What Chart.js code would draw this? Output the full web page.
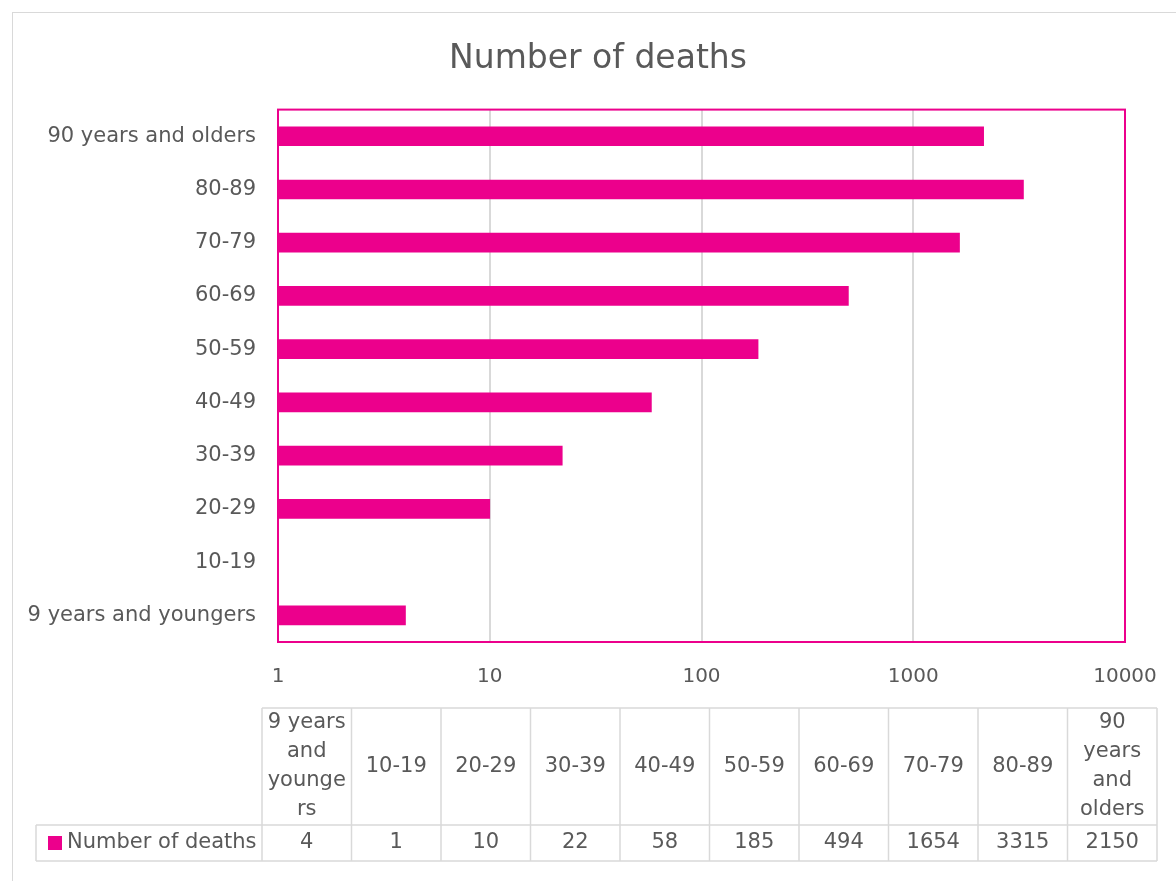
<!DOCTYPE html>
<html>
<head>
<meta charset="utf-8">
<script src="https://cdn.jsdelivr.net/npm/chart.js@4/dist/chart.umd.min.js"></script>
<style>
    html, body { margin: 0; padding: 0; background: #fff; }
    canvas { display: block; }
</style>
</head>
<body>
<canvas id="deaths_chart" width="1176" height="881"></canvas>
<script>
// Данные
const ageGroups = ['9 years and youngers', '10-19', '20-29', '30-39', '40-49', '50-59', '60-69', '70-79', '80-89', '90 years and olders'];
const deaths = [4, 1, 10, 22, 58, 185, 494, 1654, 3315, 2150];
const seriesName = 'Number of deaths';
const tickValues = [1, 10, 100, 1000, 10000];

const barColor = '#EC008C';
const textColor = '#595959';
const lineColor = '#d9d9d9';
const fontFamily = "'DejaVu Sans', Verdana, sans-serif";

Chart.defaults.font.family = fontFamily;
Chart.defaults.color = textColor;

// Рамка вокруг всей диаграммы и вокруг области построения
const framePlugin = {
    id: 'frame',
    beforeDraw(chart) {
        const ctx = chart.ctx;
        ctx.save();
        ctx.strokeStyle = lineColor;
        ctx.lineWidth = 1;
        ctx.strokeRect(12.5, 12.5, chart.width + 20, chart.height + 20);
        ctx.restore();
    },
    afterDatasetsDraw(chart) {
        const { ctx, chartArea: a } = chart;
        ctx.save();
        ctx.strokeStyle = barColor;
        ctx.lineWidth = 2;
        ctx.strokeRect(a.left, a.top, a.right - a.left, a.bottom - a.top);
        ctx.restore();
    }
};

// Разбивка подписи по ширине ячейки (как в Excel)
function wrapText(ctx, text, maxWidth) {
    const lines = [];
    let line = '';
    text.split(' ').forEach(word => {
        const test = line ? line + ' ' + word : word;
        if (ctx.measureText(test).width <= maxWidth) {
            line = test;
            return;
        }
        if (line) lines.push(line);
        line = '';
        // слово длиннее ячейки - режем по буквам
        for (const ch of word) {
            if (ctx.measureText(line + ch).width > maxWidth && line) {
                lines.push(line);
                line = ch;
            } else {
                line += ch;
            }
        }
    });
    if (line) lines.push(line);
    return lines;
}

// Таблица данных под осью
const dataTablePlugin = {
    id: 'dataTable',
    afterDraw(chart) {
        const { ctx, chartArea: a } = chart;
        const left = a.left - 16;
        const colW = 89.5;
        const headTop = 708;
        const rowTop = 825;
        const rowBottom = 861;
        const legendLeft = 36;
        const right = left + colW * ageGroups.length;

        ctx.save();
        ctx.strokeStyle = lineColor;
        ctx.lineWidth = 1.5;
        ctx.beginPath();
        ctx.moveTo(left, headTop); ctx.lineTo(right, headTop);
        ctx.moveTo(legendLeft, rowTop); ctx.lineTo(right, rowTop);
        ctx.moveTo(legendLeft, rowBottom); ctx.lineTo(right, rowBottom);
        ctx.moveTo(legendLeft, rowTop); ctx.lineTo(legendLeft, rowBottom);
        for (let i = 0; i <= ageGroups.length; i++) {
            ctx.moveTo(left + i * colW, headTop);
            ctx.lineTo(left + i * colW, rowBottom);
        }
        ctx.stroke();

        ctx.fillStyle = textColor;
        ctx.font = `21px ${fontFamily}`;
        ctx.textAlign = 'center';
        ctx.textBaseline = 'middle';
        const lineH = 29;
        const headMid = (headTop + rowTop) / 2;
        const rowMid = (rowTop + rowBottom) / 2;

        ageGroups.forEach((label, i) => {
            const cx = left + i * colW + colW / 2;
            const lines = wrapText(ctx, label, colW - 6);
            const y0 = headMid - (lines.length - 1) * lineH / 2;
            lines.forEach((l, j) => ctx.fillText(l, cx, y0 + j * lineH));
            ctx.fillText(String(deaths[i]), cx, rowMid);
        });

        // легенда
        ctx.fillStyle = barColor;
        ctx.fillRect(48, rowMid - 7, 14, 14);
        ctx.fillStyle = textColor;
        ctx.textAlign = 'left';
        ctx.fillText(seriesName, 67, rowMid);
        ctx.restore();
    }
};

new Chart(document.getElementById('deaths_chart'), {
    type: 'bar',
    data: {
        labels: ageGroups,
        datasets: [
            {
                label: seriesName,
                data: deaths,
                backgroundColor: barColor,
                borderWidth: 0,
                barThickness: 19
            }
        ]
    },
    options: {
        indexAxis: 'y',
        responsive: false,
        animation: false,
        devicePixelRatio: 1,
        layout: {
            padding: { left: 20, right: 0, top: 0, bottom: 0 }
        },
        scales: {
            x: {
                type: 'logarithmic',
                position: 'bottom',
                min: 1,
                max: 10000,
                grid: { color: lineColor, lineWidth: 2, drawTicks: false },
                border: { display: false },
                ticks: {
                    padding: 23,
                    font: { size: 20 },
                    callback: value => String(value)
                },
                afterBuildTicks: scale => {
                    scale.ticks = tickValues.map(v => ({ value: v }));
                },
                afterFit: scale => {
                    scale.height = 239;
                    scale.paddingLeft = 0;
                    scale.paddingRight = 0;
                }
            },
            y: {
                reverse: true,
                grid: { display: false, drawTicks: false },
                border: { display: false },
                ticks: { padding: 22, font: { size: 21 } },
                afterFit: scale => { scale.width = 258; }
            },
            // пустая ось справа - только отступ
            yRight: {
                axis: 'y',
                position: 'right',
                grid: { display: false, drawTicks: false },
                border: { display: false },
                ticks: { display: false },
                afterFit: scale => { scale.width = 51; }
            }
        },
        plugins: {
            legend: { display: false },
            tooltip: { enabled: false },
            title: {
                display: true,
                text: seriesName,
                color: textColor,
                font: { size: 33, weight: 'normal' },
                padding: { top: 40, bottom: 30 }
            }
        }
    },
    plugins: [framePlugin, dataTablePlugin]
});
</script>
</body>
</html>
